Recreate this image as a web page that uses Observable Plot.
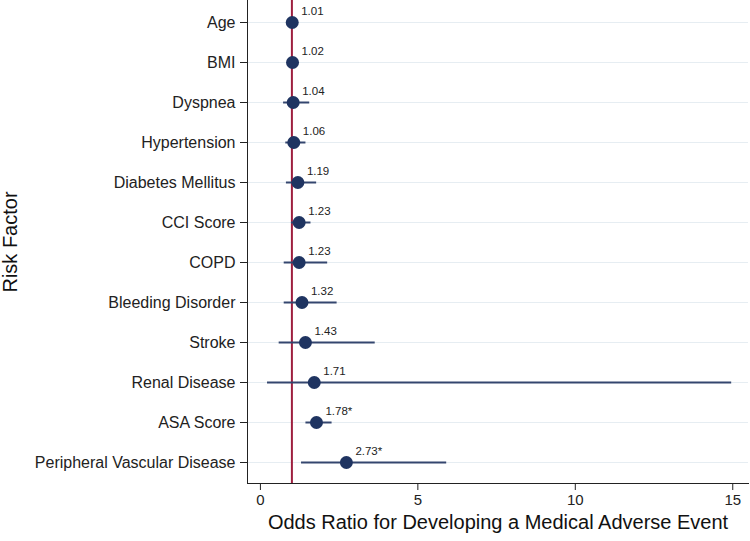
<!DOCTYPE html>
<html>
<head>
<meta charset="utf-8">
<script src="https://cdn.jsdelivr.net/npm/d3@7"></script>
<script src="https://cdn.jsdelivr.net/npm/@observablehq/plot@0.6"></script>
<style>
  html, body { margin: 0; padding: 0; background: #fff; }
  svg { font-family: "Liberation Sans", Arial, sans-serif; }
</style>
</head>
<body>
<div id="chart"></div>
<script>
const factors = ["Age", "BMI", "Dyspnea", "Hypertension", "Diabetes Mellitus", "CCI Score", "COPD",
  "Bleeding Disorder", "Stroke", "Renal Disease", "ASA Score", "Peripheral Vascular Disease"];
const oddsRatio = [1.01, 1.02, 1.04, 1.06, 1.19, 1.23, 1.23, 1.32, 1.43, 1.71, 1.78, 2.73];
const ciLow  = [0.99, 1.00, 0.72, 0.79, 0.81, 0.97, 0.74, 0.74, 0.58, 0.21, 1.43, 1.29];
const ciHigh = [1.03, 1.04, 1.55, 1.43, 1.77, 1.59, 2.12, 2.42, 3.63, 14.95, 2.26, 5.90];
const labels = ["1.01", "1.02", "1.04", "1.06", "1.19", "1.23", "1.23", "1.32", "1.43", "1.71", "1.78*", "2.73*"];
const xTicks = [0, 5, 10, 15];
const refLine = [1];
const xTitle = ["Odds Ratio for Developing a Medical Adverse Event"];
const yTitle = ["Risk Factor"];

const data = factors.map((f, i) => ({factor: f, or: oddsRatio[i], lo: ciLow[i], hi: ciHigh[i], label: labels[i]}));
const xDomain = [-0.41, 15.5];

const chart = Plot.plot({
  width: 750,
  height: 541,
  marginLeft: 247,
  marginRight: 2,
  marginTop: 0,
  marginBottom: 58,
  style: {fontFamily: "Liberation Sans, Arial, sans-serif", color: "#222", background: "#fff"},
  x: {domain: xDomain, ticks: xTicks, label: null},
  y: {domain: factors, padding: 0.5, label: null},
  marks: [
    Plot.ruleY(data, {y: "factor", stroke: "#e6edf2", strokeWidth: 1.2}),
    Plot.ruleX(refLine, {stroke: "#9e1f3f", strokeWidth: 2}),
    Plot.link(data, {x1: "lo", x2: "hi", y1: "factor", y2: "factor", stroke: "#34466f", strokeWidth: 2}),
    Plot.dot(data, {x: "or", y: "factor", r: 6.5, fill: "#1f3461", stroke: "none"}),
    Plot.text(data, {x: "or", y: "factor", text: "label", dx: 9, dy: -11, textAnchor: "start", fontSize: 11.5, fill: "#222"}),
    Plot.frame({anchor: "left", stroke: "#222"}),
    Plot.frame({anchor: "bottom", stroke: "#222"}),
    Plot.axisX({ticks: xTicks, tickSize: 7, tickPadding: 4, fontSize: 15, label: null}),
    Plot.axisY({tickSize: 7, tickPadding: 5, fontSize: 16, label: null}),
    Plot.text(xTitle, {text: d => d, frameAnchor: "bottom", textAnchor: "middle", lineAnchor: "middle", dy: 39, fontSize: 20, fill: "#111"}),
    Plot.text(yTitle, {text: d => d, frameAnchor: "left", textAnchor: "middle", lineAnchor: "middle", dx: -237, rotate: -90, fontSize: 20, fill: "#111"})
  ]
});
document.getElementById("chart").appendChild(chart);
</script>
</body>
</html>
